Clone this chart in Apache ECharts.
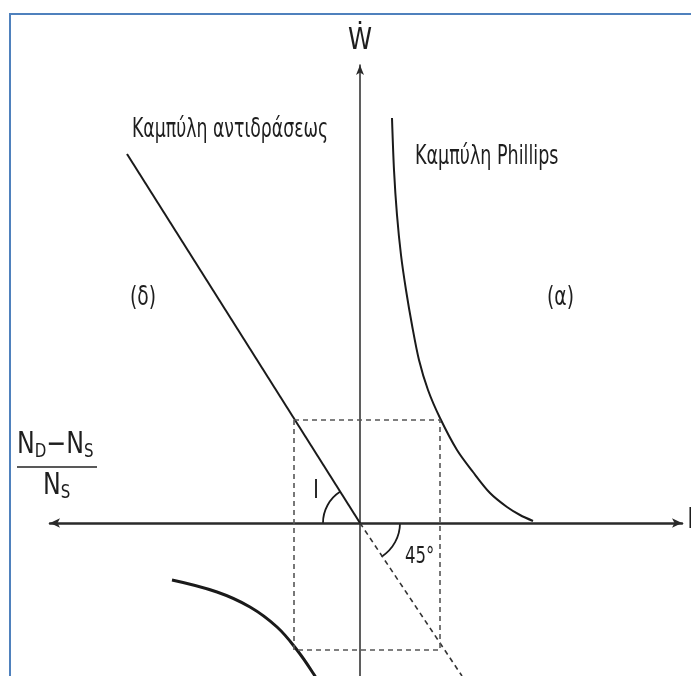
<!DOCTYPE html>
<html>
<head>
<meta charset="utf-8">
<script src="https://cdn.jsdelivr.net/npm/echarts@6/dist/echarts.min.js"></script>
<style>
  html, body { margin: 0; padding: 0; background: #fff; }
  #chart { width: 691px; height: 676px; }
</style>
</head>
<body>
<div id="chart"></div>
<script>
  // diagram units: origin where the two axes cross, 1 unit = 10px
  var reactX = [-23.3, 0];
  var reactY = [36.9, 0];
  var reactDashX = [0, 10.2];
  var reactDashY = [0, -15.3];

  var phillipsX = [3.2, 3.4, 3.7, 4.1, 4.6, 5.2, 5.9, 6.8, 8.0, 9.7, 11.3, 13.0, 14.7, 16.0, 17.3];
  var phillipsY = [40.5, 35.3, 30.8, 26.8, 23.3, 19.8, 16.3, 13.3, 10.5, 7.3, 5.1, 3.0, 1.6, 0.8, 0.2];

  var lowerX = [-18.8, -14.3, -11.0, -8.3, -6.3, -4.7, -3.2];
  var lowerY = [-5.7, -6.9, -8.4, -10.4, -12.7, -15.0, -17.5];

  // dashed rectangle: left/right and top/bottom edges
  var rectX = [-6.6, 8.0];
  var rectY = [10.3, -12.7];

  var FONT = '"Liberation Sans Narrow", "DejaVu Sans Condensed", "Liberation Sans", sans-serif';
  var INK = '#1a1a1a';

  function zip(xs, ys) {
    return xs.map(function (x, i) { return [x, ys[i]]; });
  }

  var rectPts = [
    [rectX[0], rectY[0]], [rectX[1], rectY[0]], [rectX[1], rectY[1]],
    [rectX[0], rectY[1]], [rectX[0], rectY[0]]
  ];

  var chart = echarts.init(document.getElementById('chart'));

  var lineBase = {
    type: 'line',
    showSymbol: false,
    silent: true,
    animation: false
  };

  chart.setOption({
    backgroundColor: '#fff',
    animation: false,
    grid: { left: 50, right: 9, top: 65, bottom: 0, containLabel: false },
    xAxis: {
      type: 'value', min: -31, max: 32.2,
      axisLine: {
        show: true, onZero: true,
        symbol: ['arrow', 'arrow'], symbolSize: [7, 10],
        lineStyle: { color: '#2a2a2a', width: 2.5 }
      },
      axisTick: { show: false }, axisLabel: { show: false }, splitLine: { show: false }
    },
    yAxis: {
      type: 'value', min: -15.3, max: 45.8,
      axisLine: {
        show: true, onZero: true,
        symbol: ['none', 'arrow'], symbolSize: [6, 10],
        lineStyle: { color: '#2a2a2a', width: 1.5 }
      },
      axisTick: { show: false }, axisLabel: { show: false }, splitLine: { show: false }
    },
    series: [
      Object.assign({}, lineBase, {
        data: zip(reactX, reactY),
        lineStyle: { color: INK, width: 2 }
      }),
      Object.assign({}, lineBase, {
        data: zip(reactDashX, reactDashY),
        lineStyle: { color: '#333', width: 1.6, type: [5, 4] }
      }),
      Object.assign({}, lineBase, {
        data: zip(phillipsX, phillipsY), smooth: 0.3,
        lineStyle: { color: INK, width: 2 }
      }),
      Object.assign({}, lineBase, {
        data: zip(lowerX, lowerY), smooth: 0.4,
        lineStyle: { color: INK, width: 3 }
      }),
      Object.assign({}, lineBase, {
        data: rectPts,
        lineStyle: { color: '#555', width: 1.6, type: [5, 4] }
      })
    ]
  });

  var o = chart.convertToPixel({ gridIndex: 0 }, [0, 0]);

  function label(txt, x, y, size, sx, align) {
    return {
      type: 'text', x: x, y: y, silent: true,
      scaleX: sx || 1,
      style: {
        text: txt, fill: '#1e1e1e', font: size + 'px ' + FONT,
        textAlign: align || 'left',
        textVerticalAlign: 'middle'
      }
    };
  }

  var rich = {
    n: { font: '30px ' + FONT, fill: '#1e1e1e' },
    s: { font: '19px ' + FONT, fill: '#1e1e1e', padding: [14, 0, 0, 0] }
  };

  chart.setOption({
    graphic: [
      // blue frame
      {
        type: 'rect', silent: true,
        shape: { x: 10, y: 14, width: 720, height: 700 },
        style: { fill: 'none', stroke: '#4f81bd', lineWidth: 2 }
      },
      // angle arcs
      {
        type: 'arc', silent: true,
        shape: { cx: o[0], cy: o[1], r: 37, startAngle: Math.PI, endAngle: Math.PI + 1.0, clockwise: true },
        style: { fill: 'none', stroke: INK, lineWidth: 1.8 }
      },
      {
        type: 'arc', silent: true,
        shape: { cx: o[0], cy: o[1], r: 40, startAngle: 0, endAngle: 1.0, clockwise: true },
        style: { fill: 'none', stroke: INK, lineWidth: 1.8 }
      },
      label('Ẇ', 360, 41, 30, 0.9, 'center'),
      label('L', 687, 521, 28),
      label('Καμπύλη αντιδράσεως', 132, 130, 26, 0.74),
      label('Καμπύλη Phillips', 415, 157, 26, 0.75),
      label('(δ)', 130, 298, 26, 0.8),
      label('(α)', 547, 298, 26, 0.8),
      label('45°', 405, 557, 23, 0.8),
      label('l', 313, 492, 24),
      // fraction (N_D - N_S) / N_S
      {
        type: 'text', x: 17, y: 445, silent: true, scaleX: 0.88,
        style: { text: '{n|N}{s|D}{n|−N}{s|S}', textVerticalAlign: 'middle', rich: rich }
      },
      {
        type: 'line', silent: true,
        shape: { x1: 17, y1: 467, x2: 97, y2: 467 },
        style: { stroke: '#222', lineWidth: 1.6 }
      },
      {
        type: 'text', x: 43, y: 486, silent: true, scaleX: 0.88,
        style: { text: '{n|N}{s|S}', textVerticalAlign: 'middle', rich: rich }
      }
    ]
  });
</script>
</body>
</html>
